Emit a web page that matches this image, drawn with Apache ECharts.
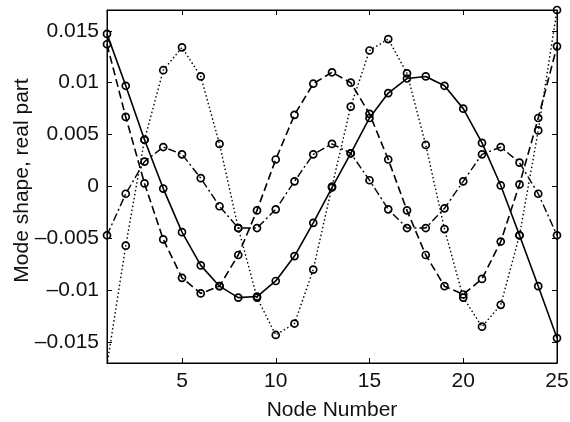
<!DOCTYPE html>
<html>
<head>
<meta charset="utf-8">
<script src="https://cdn.jsdelivr.net/npm/echarts@6/dist/echarts.min.js"></script>
<style>html,body{margin:0;padding:0;background:#fff}#c{width:570px;height:422px}</style>
</head>
<body>
<div id="c"></div>
<script>
var nodes = [1,2,3,4,5,6,7,8,9,10,11,12,13,14,15,16,17,18,19,20,21,22,23,24,25];
var solidMode = [0.0147, 0.0097, 0.0045, -0.0002, -0.0044, -0.0076, -0.0096, -0.0107, -0.0106, -0.0091, -0.0067, -0.0035, -0.0001, 0.0032, 0.0066, 0.0090, 0.0104, 0.0106, 0.0097, 0.0075, 0.0042, 0.0001, -0.0047, -0.0096, -0.0146];
var dashedMode = [0.0137, 0.0067, 0.0003, -0.0051, -0.0088, -0.0103, -0.0096, -0.0066, -0.0023, 0.0026, 0.0069, 0.0099, 0.0110, 0.0100, 0.0070, 0.0026, -0.0023, -0.0066, -0.0096, -0.0104, -0.0089, -0.0053, 0.0002, 0.0066, 0.0135];
var dashDotMode = [-0.0047, -0.0007, 0.0024, 0.0038, 0.0031, 0.0008, -0.0019, -0.0040, -0.0040, -0.0022, 0.0005, 0.0031, 0.0041, 0.0032, 0.0006, -0.0022, -0.0040, -0.0040, -0.0021, 0.0005, 0.0031, 0.0038, 0.0023, -0.0007, -0.0047];
var dottedMode = [-0.0172, -0.0057, 0.0045, 0.0112, 0.0134, 0.0106, 0.0041, -0.0040, -0.0107, -0.0143, -0.0132, -0.0080, 0.0000, 0.0077, 0.0131, 0.0142, 0.0109, 0.0040, -0.0041, -0.0107, -0.0135, -0.0114, -0.0047, 0.0054, 0.0170];
var xTicks = [5, 10, 15, 20, 25];
var yTicks = [-0.015, -0.01, -0.005, 0, 0.005, 0.01, 0.015];

var FONT = 'Liberation Sans, Arial, Helvetica, sans-serif';
function pairs(arr){ return nodes.map(function(n,i){ return [n, arr[i]]; }); }
function yFmt(v){
  var r = Math.round(v*1000)/1000;
  if (r === 0) return '0';
  var s = String(Math.abs(r));
  return r < 0 ? '\u2013' + s : s;
}
function mk(name, arr, dash, w){
  return {
    name: name, type: 'line', data: pairs(arr),
    symbol: 'circle', symbolSize: 7,
    itemStyle: { color: 'rgba(255,255,255,0)', borderColor: '#000', borderWidth: 1.7 },
    lineStyle: { color: '#000', width: w, type: dash },
    emphasis: { disabled: true }, animation: false, clip: true
  };
}
var chart = echarts.init(document.getElementById('c'), null, { renderer: 'canvas' });
chart.setOption({
  backgroundColor: '#fff',
  animation: false,
  grid: { left: 107, right: 13, top: 10, bottom: 59, show: true, borderColor: '#000', borderWidth: 1, outerBoundsMode: 'none', containLabel: false },
  xAxis: [{
    type: 'value', min: 1, max: 25, position: 'bottom',
    axisLine: { show: true, onZero: false, lineStyle: { color: '#000' } },
    axisTick: { show: true, inside: true, length: 5, customValues: xTicks, lineStyle: { color: '#000' } },
    axisLabel: { customValues: xTicks, color: '#111', fontFamily: FONT, fontSize: 21, margin: 8 },
    splitLine: { show: false },
    name: 'Node Number', nameLocation: 'middle', nameGap: 37, nameMoveOverlap: false,
    nameTextStyle: { color: '#111', fontFamily: FONT, fontSize: 21 }
  }, {
    type: 'value', min: 1, max: 25, position: 'top',
    axisLine: { show: true, onZero: false, lineStyle: { color: '#000' } },
    axisTick: { show: true, inside: true, length: 5, customValues: xTicks, lineStyle: { color: '#000' } },
    axisLabel: { show: false }, splitLine: { show: false }
  }],
  yAxis: [{
    type: 'value', min: -0.017, max: 0.017, position: 'left',
    axisLine: { show: true, onZero: false, lineStyle: { color: '#000' } },
    axisTick: { show: true, inside: true, length: 5, customValues: yTicks, lineStyle: { color: '#000' } },
    axisLabel: { customValues: yTicks, formatter: yFmt, color: '#111', fontFamily: FONT, fontSize: 21, margin: 8 },
    splitLine: { show: false },
    name: 'Mode shape, real part', nameLocation: 'middle', nameGap: 74, nameMoveOverlap: false,
    nameTextStyle: { color: '#111', fontFamily: FONT, fontSize: 21, padding: [0, 0, 0, 12] }
  }, {
    type: 'value', min: -0.017, max: 0.017, position: 'right',
    axisLine: { show: true, onZero: false, lineStyle: { color: '#000' } },
    axisTick: { show: true, inside: true, length: 5, customValues: yTicks, lineStyle: { color: '#000' } },
    axisLabel: { show: false }, splitLine: { show: false }
  }],
  series: [
    mk('solid', solidMode, 'solid', 1.6),
    mk('dashed', dashedMode, [8, 4], 1.6),
    mk('dashdot', dashDotMode, [8, 3, 2, 3], 1.4),
    mk('dotted', dottedMode, [1.5, 2.5], 1.4)
  ]
});
</script>
</body>
</html>
